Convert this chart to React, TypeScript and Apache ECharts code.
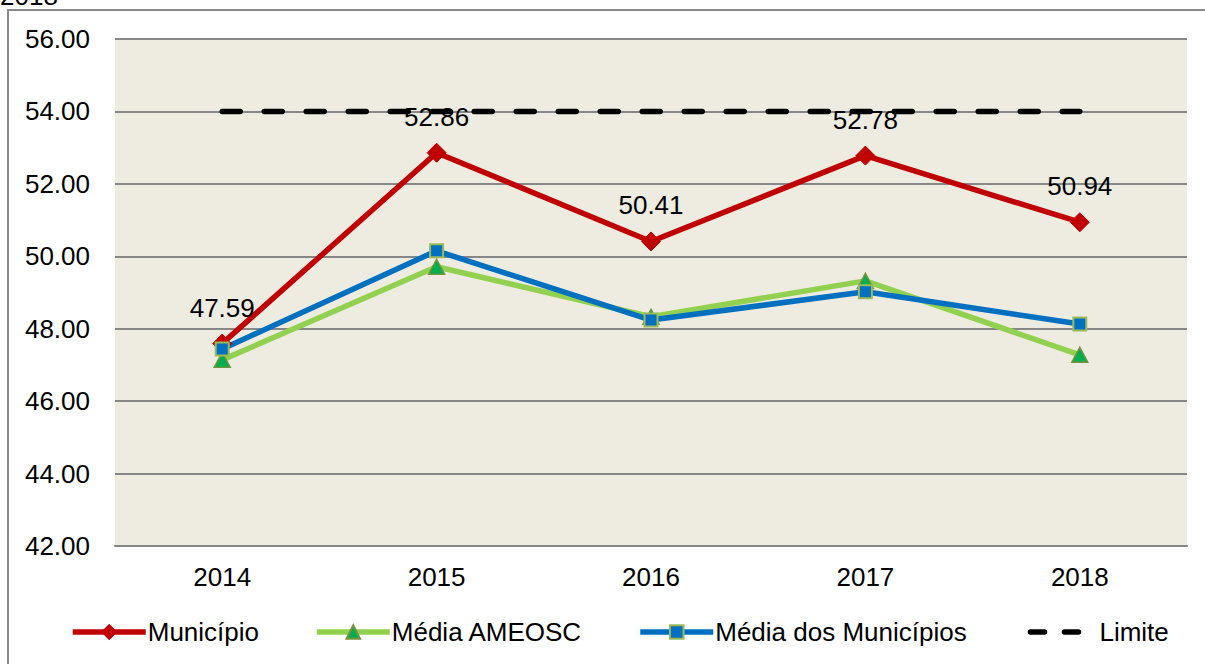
import React, { useEffect, useRef } from "react";
import * as echarts from "echarts";

const categories = ["2014", "2015", "2016", "2017", "2018"];
const municipio = [47.59, 52.86, 50.41, 52.78, 50.94];
const mediaAmeosc = [47.14, 49.71, 48.33, 49.32, 47.28];
const mediaMunicipios = [47.44, 50.15, 48.24, 49.02, 48.13];
const limite = [54, 54, 54, 54, 54];
const yMin = 42;
const yMax = 56;
const yStep = 2;

const FONT = "Liberation Sans, Arial, sans-serif";
const FS = 26;

export default function App() {
  const ref = useRef<HTMLDivElement>(null);
  useEffect(() => {
    if (!ref.current) return;
    const chart = echarts.init(ref.current, undefined, { renderer: "svg" });
    chart.setOption({
      animation: false,
      backgroundColor: "#ffffff",
      textStyle: { fontFamily: FONT },
      graphic: [
        {
          type: "rect",
          shape: { x: 8, y: 10, width: 1400, height: 900 },
          style: { fill: "none", stroke: "#8a8a8a", lineWidth: 2 },
          silent: true,
        },
        {
          type: "text",
          x: 0,
          y: -17,
          style: { text: "2018", fontSize: FS, fontFamily: FONT, fill: "#000", verticalAlign: "top" },
          silent: true,
        },
      ],
      grid: {
        left: 115,
        right: 18,
        top: 39,
        bottom: 118,
        show: true,
        backgroundColor: "#EEEBE1",
        borderWidth: 0,
      },
      legend: {
        bottom: 14,
        left: 65,
        padding: 5,
        itemWidth: 73,
        itemHeight: 17,
        itemGap: 55,
        textStyle: { fontSize: FS, fontFamily: FONT, color: "#000", padding: [0, 0, 0, -3] },
        lineStyle: { width: 5.5 },
        data: [
          { name: "Município" },
          { name: "Média AMEOSC" },
          { name: "Média dos Municípios" },
          {
            name: "Limite",
            itemStyle: { opacity: 0 },
            lineStyle: { width: 5.5, type: [14, 20], cap: "round", dashOffset: -6 },
          },
        ],
      },
      xAxis: {
        type: "category",
        data: categories,
        boundaryGap: true,
        axisTick: { show: false },
        axisLine: { lineStyle: { color: "#868686", width: 2 } },
        axisLabel: { fontSize: FS, color: "#000", margin: 18, fontFamily: FONT },
      },
      yAxis: {
        type: "value",
        min: yMin,
        max: yMax,
        interval: yStep,
        axisLine: { show: false },
        axisTick: { show: false },
        splitLine: { lineStyle: { color: "#878787", width: 2 } },
        axisLabel: {
          fontSize: FS,
          color: "#000",
          margin: 25,
          fontFamily: FONT,
          formatter: (v: number) => v.toFixed(2),
        },
      },
      series: [
        {
          name: "Município",
          type: "line",
          data: municipio,
          symbol: "diamond",
          symbolSize: 19,
          lineStyle: { color: "#C00000", width: 5.5 },
          itemStyle: { color: "#C00000", borderColor: "#C00000", borderWidth: 1 },
          label: {
            show: true,
            position: "top",
            distance: 13,
            fontSize: FS,
            color: "#000",
            fontFamily: FONT,
            formatter: (p: any) => p.value.toFixed(2),
          },
        },
        {
          name: "Média AMEOSC",
          type: "line",
          data: mediaAmeosc,
          symbol: "triangle",
          symbolSize: [16, 15],
          lineStyle: { color: "#92D050", width: 5.5 },
          itemStyle: { color: "#00B050", borderColor: "#77933C", borderWidth: 1.5 },
        },
        {
          name: "Média dos Municípios",
          type: "line",
          data: mediaMunicipios,
          symbol: "rect",
          symbolSize: 13,
          lineStyle: { color: "#0070C0", width: 5.5 },
          itemStyle: { color: "#0070C0", borderColor: "#9BBB59", borderWidth: 2 },
        },
        {
          name: "Limite",
          type: "line",
          data: limite,
          symbol: "none",
          lineStyle: { color: "#000000", width: 5.5, type: [18, 24], cap: "round" },
          itemStyle: { color: "#000000" },
        },
      ],
    });
    return () => chart.dispose();
  }, []);
  return (
    <div
      ref={ref}
      style={{ position: "absolute", left: 0, top: 0, width: 1205, height: 664 }}
    />
  );
}
